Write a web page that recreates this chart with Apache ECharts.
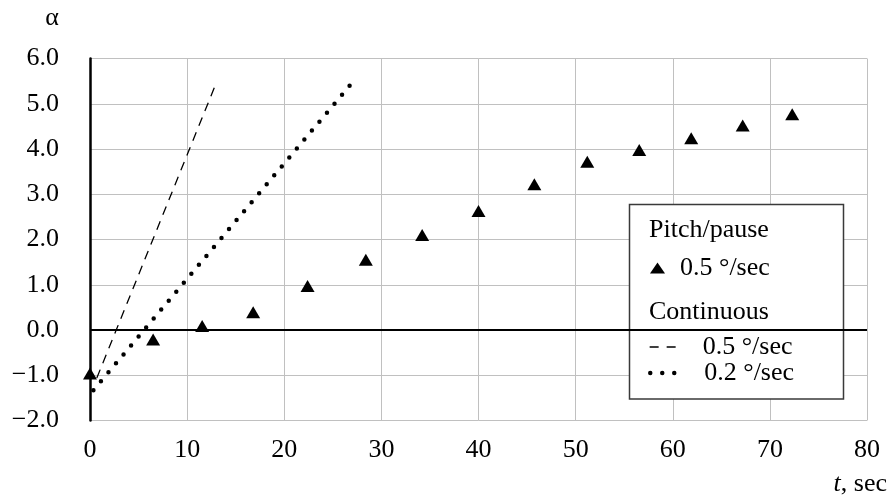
<!DOCTYPE html>
<html>
<head>
<meta charset="utf-8">
<script src="https://cdn.jsdelivr.net/npm/echarts@6/dist/echarts.min.js"></script>
<style>
html,body{margin:0;padding:0;background:#fff;}
#chart{width:890px;height:495px;}
</style>
</head>
<body>
<div id="chart"></div>
<script>
// ---- data ----
const pitchPauseT     = [0, 6.5, 11.55, 16.8, 22.4, 28.4, 34.2, 40.0, 45.75, 51.2, 56.55, 61.9, 67.2, 72.3];
const pitchPauseAlpha = [-0.96, -0.21, 0.09, 0.39, 0.97, 1.55, 2.1, 2.63, 3.22, 3.72, 3.98, 4.24, 4.52, 4.77];
const cont05T     = [0.7, 12.96];
const cont05Alpha = [-1.06, 5.44];
const cont02T     = [0.35, 26.9];
const cont02Alpha = [-1.33, 5.44];
const yTickValues = [-2, -1, 0, 1, 2, 3, 4, 5, 6];
const yTickLabels = ['\u22122.0', '\u22121.0', '0.0', '1.0', '2.0', '3.0', '4.0', '5.0', '6.0'];
const xTickLabels = ['0', '10', '20', '30', '40', '50', '60', '70', '80'];
const seriesNames = ['pp05', 'c05', 'c02'];
const legendLabels = {pp05: '0.5 \u00b0/sec', c05: '0.5 \u00b0/sec', c02: '0.2 \u00b0/sec'};
const groupTitles = ['Pitch/pause', 'Continuous'];

const zip = (a, b) => a.map((v, i) => [v, b[i]]);
const FONT = "'Liberation Serif', 'Times New Roman', serif";
const FS = 26;

const chart = echarts.init(document.getElementById('chart'), null, {renderer: 'canvas'});
chart.setOption({
  animation: false,
  backgroundColor: '#fff',
  textStyle: {fontFamily: FONT, color: '#000'},
  grid: {left: 90, right: 23, top: 58.5, bottom: 74.5, containLabel: false},
  xAxis: {
    type: 'value', min: 0, max: 80, interval: 10,
    axisLine: {show: false},
    axisTick: {show: false},
    axisLabel: {
      margin: 17, fontSize: FS, fontFamily: FONT, color: '#000',
      formatter: v => xTickLabels[Math.round(v / 10)]
    },
    splitLine: {show: true, lineStyle: {color: '#c0c0c0', width: 1}}
  },
  yAxis: {
    type: 'value', min: -2, max: 6, interval: 1,
    axisLine: {show: true, onZero: false, lineStyle: {color: '#000', width: 2.5}},
    axisTick: {show: false},
    axisLabel: {
      margin: 31, fontSize: FS, fontFamily: FONT, color: '#000',
      formatter: v => yTickLabels[yTickValues.indexOf(Math.round(v))]
    },
    splitLine: {show: true, lineStyle: {color: '#c0c0c0', width: 1}}
  },
  legend: [
    {
      data: [{name: seriesNames[0], icon: 'triangle'}],
      left: 650, top: 255, padding: 0, selectedMode: false,
      itemWidth: 15, itemHeight: 11,
      itemStyle: {color: '#000', opacity: 1},
      formatter: n => legendLabels[n],
      textStyle: {fontSize: FS, fontFamily: FONT, color: '#000', lineHeight: 24, padding: [0, 0, 0, 10]}
    },
    {
      data: [seriesNames[1]],
      left: 649, top: 334, padding: 0, selectedMode: false,
      itemWidth: 28, itemHeight: 14,
      itemStyle: {opacity: 0},
      lineStyle: {color: '#000', width: 1.3, type: [9, 8]},
      formatter: n => legendLabels[n],
      textStyle: {fontSize: FS, fontFamily: FONT, color: '#000', lineHeight: 24, padding: [0, 0, 0, 20]}
    },
    {
      data: [seriesNames[2]],
      left: 648, top: 360, padding: 0, selectedMode: false,
      itemWidth: 28, itemHeight: 14,
      itemStyle: {opacity: 0},
      lineStyle: {color: '#000', width: 4.5, type: [0, 12], cap: 'round'},
      formatter: n => legendLabels[n],
      textStyle: {fontSize: FS, fontFamily: FONT, color: '#000', lineHeight: 24, padding: [0, 0, 0, 21]}
    }
  ],
  graphic: [
    {type: 'rect', z: 3, shape: {x: 629.5, y: 204.5, width: 214, height: 194.5},
     style: {fill: '#fff', stroke: '#3a3a3a', lineWidth: 1.5}},
    {type: 'text', z: 5, x: 649, y: 230,
     style: {text: groupTitles[0], font: FS + 'px ' + FONT, fill: '#000', textAlign: 'left', textVerticalAlign: 'middle'}},
    {type: 'text', z: 5, x: 649, y: 312,
     style: {text: groupTitles[1], font: FS + 'px ' + FONT, fill: '#000', textAlign: 'left', textVerticalAlign: 'middle'}},
    {type: 'text', z: 5, x: 52, y: 18,
     style: {text: '\u03b1', font: FS + 'px ' + FONT, fill: '#000', textAlign: 'center', textVerticalAlign: 'middle'}},
    {type: 'text', z: 5, x: 887, y: 484,
     style: {text: '{i|t}{n|, sec}', textAlign: 'right', textVerticalAlign: 'middle', fill: '#000',
       rich: {i: {fontStyle: 'italic', fontSize: FS, fontFamily: FONT, fill: '#000'},
              n: {fontSize: FS, fontFamily: FONT, fill: '#000'}}}}
  ],
  series: [
    {
      name: seriesNames[0], type: 'scatter', z: 4,
      data: zip(pitchPauseT, pitchPauseAlpha),
      symbol: 'triangle', symbolSize: [14, 12],
      itemStyle: {color: '#000', opacity: 1},
      markLine: {
        silent: true, symbol: 'none', label: {show: false},
        lineStyle: {color: '#000', width: 2, type: 'solid', opacity: 1},
        data: [{yAxis: 0}]
      }
    },
    {
      name: seriesNames[1], type: 'line', z: 3,
      data: zip(cont05T, cont05Alpha),
      symbol: 'none', showSymbol: false,
      lineStyle: {color: '#000', width: 1.3, type: [9, 7]}
    },
    {
      name: seriesNames[2], type: 'line', z: 3,
      data: zip(cont02T, cont02Alpha),
      symbol: 'none', showSymbol: false,
      lineStyle: {color: '#000', width: 4.5, type: [0, 11.7], cap: 'round'}
    }
  ]
});
</script>
</body>
</html>
